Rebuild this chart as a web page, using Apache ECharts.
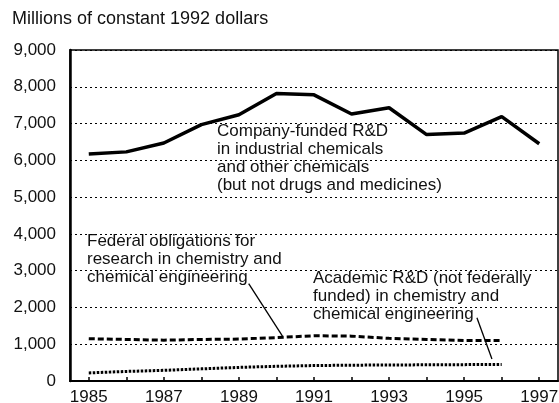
<!DOCTYPE html>
<html>
<head>
    <meta charset="UTF-8" />
    <title>chemical R&amp;D</title>
    <script src="https://cdn.jsdelivr.net/npm/echarts@6/dist/echarts.min.js"></script>
    <style>
        html, body { margin: 0; padding: 0; background: #fff; }
        #main { width: 559px; height: 403px; }
    </style>
</head>
<body>
    <div id="main"></div>
    <script>
        // years on the x axis
        var years = [1985, 1986, 1987, 1988, 1989, 1990, 1991, 1992, 1993, 1994, 1995, 1996, 1997];
        var yearLabels = [1985, 1987, 1989, 1991, 1993, 1995, 1997];

        // millions of constant 1992 dollars
        var companyFunded = [6170, 6230, 6470, 6970, 7240, 7820, 7780, 7260, 7430, 6700, 6740, 7190, 6450];
        var federalObligations = [1150, 1130, 1110, 1130, 1140, 1180, 1230, 1220, 1160, 1130, 1100, 1100];
        var academicRD = [220, 260, 290, 330, 370, 400, 420, 430, 435, 440, 445, 450];

        // leader lines from the labels to the lines, [year, value]
        var federalPointer = [[1989.26, 2650], [1990.16, 1220]];
        var academicPointer = [[1995.34, 1720], [1995.74, 600]];

        function pairs(vals) {
            return vals.map(function (v, i) { return [years[i], v]; });
        }

        var font = 'Liberation Sans, Arial, sans-serif';
        var myChart = echarts.init(document.getElementById('main'));

        var option = {
            animation: false,
            grid: {
                left: 70, right: 1, top: 50, bottom: 22,
                outerBoundsMode: 'none', containLabel: false,
                show: true, borderColor: '#000', borderWidth: 1.5, backgroundColor: 'transparent'
            },
            xAxis: {
                type: 'value',
                min: 1984.5,
                max: 1997.5,
                axisLine: { show: true, lineStyle: { color: '#000', width: 2 } },
                axisTick: { show: true, inside: true, length: 4, customValues: years, lineStyle: { color: '#000', width: 1.5 } },
                axisLabel: {
                    customValues: yearLabels, color: '#111', fontSize: 17, fontFamily: font, margin: 8,
                    formatter: function (v) { return String(v); }
                },
                splitLine: { show: false }
            },
            yAxis: {
                type: 'value',
                min: 0,
                max: 9000,
                interval: 1000,
                axisLine: { show: true, lineStyle: { color: '#000', width: 2.5 } },
                axisTick: { show: false },
                axisLabel: {
                    color: '#111', fontSize: 17, fontFamily: font, margin: 14,
                    formatter: function (v) { return v.toLocaleString('en-US'); }
                },
                splitLine: { show: true, lineStyle: { color: '#000', width: 1, type: [2, 3] } }
            },
            graphic: [
                { type: 'text', left: 12, top: 10, style: { text: 'Millions of constant 1992 dollars', font: '18px ' + font, fill: '#111' } },
                { type: 'text', left: 217, top: 122, style: { text: 'Company-funded R&D\nin industrial chemicals\nand other chemicals\n(but not drugs and medicines)', font: '17px ' + font, lineHeight: 18, fill: '#111' } },
                { type: 'text', left: 87, top: 232, style: { text: 'Federal obligations for\nresearch in chemistry and\nchemical engineering', font: '17px ' + font, lineHeight: 18, fill: '#111' } },
                { type: 'text', left: 313, top: 269, style: { text: 'Academic R&D (not federally\nfunded) in chemistry and\nchemical engineering', font: '17px ' + font, lineHeight: 18, fill: '#111' } }
            ],
            series: [
                {
                    name: 'Company-funded', type: 'line', data: pairs(companyFunded),
                    symbol: 'none', lineStyle: { color: '#000', width: 3.5 }
                },
                {
                    name: 'Federal', type: 'line', data: pairs(federalObligations),
                    symbol: 'none', lineStyle: { color: '#000', width: 3, type: [6, 3] }
                },
                {
                    name: 'Academic', type: 'line', data: pairs(academicRD),
                    symbol: 'none', lineStyle: { color: '#000', width: 3, type: [2.5, 1.5] }
                },
                {
                    name: 'federal pointer', type: 'line', data: federalPointer,
                    symbol: 'none', lineStyle: { color: '#000', width: 1.3 }
                },
                {
                    name: 'academic pointer', type: 'line', data: academicPointer,
                    symbol: 'none', lineStyle: { color: '#000', width: 1.3 }
                }
            ]
        };

        myChart.setOption(option);
    </script>
</body>
</html>
